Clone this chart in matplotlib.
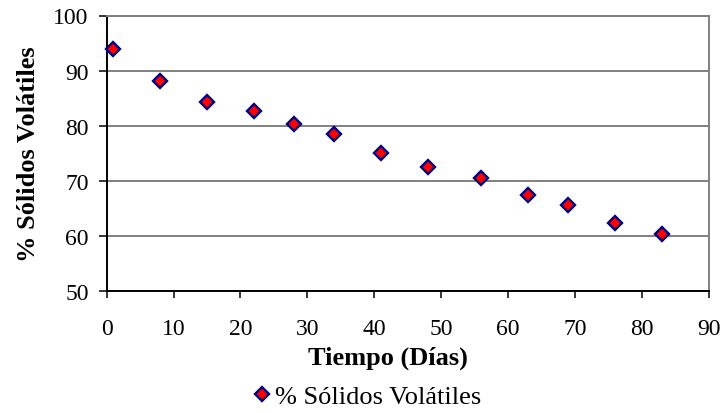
import matplotlib
matplotlib.use("Agg")
import matplotlib.pyplot as plt
from matplotlib.lines import Line2D

# Days since start and volatile solids percentage
dias = [1, 8, 15, 22, 28, 34, 41, 48, 56, 63, 69, 76, 83]
solidos_volatiles = [94.0, 88.2, 84.3, 82.6, 80.4, 78.5, 75.0, 72.6, 70.5, 67.4, 65.6, 62.4, 60.3]

x_ticks = [0, 10, 20, 30, 40, 50, 60, 70, 80, 90]
y_ticks = [50, 60, 70, 80, 90, 100]

serie = "% Sólidos Volátiles"
x_titulo = "Tiempo (Días)"
y_titulo = "% Sólidos Volátiles"

W, H = 724, 414
PX = 72 / 100  # points per pixel at 100 dpi
plt.rcParams["font.family"] = ["Liberation Serif", "DejaVu Serif"]

fig = plt.figure(figsize=(W / 100, H / 100), dpi=100)
left, right, top, bottom = 106.6, 708.7, 16.5, 292.3
ax = fig.add_axes([left / W, 1 - bottom / H, (right - left) / W, (bottom - top) / H])

ax.set_xlim(0, 90)
ax.set_ylim(50, 100)
ax.set_xticks(x_ticks)
ax.set_yticks(y_ticks)

ax.grid(axis="y", color="#808080", linewidth=1.4)
ax.set_axisbelow(True)

for side in ("top", "right"):
    ax.spines[side].set_color("#808080")
    ax.spines[side].set_linewidth(1.4)
for side in ("left", "bottom"):
    ax.spines[side].set_color("black")
    ax.spines[side].set_linewidth(1.4)

tick_len = 7 * PX
# x tick labels sit on a baseline at y = 335 px
ax.tick_params(axis="x", direction="out", length=tick_len, width=1.1, labelsize=17,
               pad=(335 - bottom) * PX - tick_len)
for lab in ax.get_xticklabels():
    lab.set_verticalalignment("baseline")
ax.tick_params(axis="y", direction="out", length=8 * PX, width=1.1, labelsize=17,
               pad=10 * PX)

marker_style = dict(linestyle="none", marker="D", markersize=7,
                    markerfacecolor="#FF0000", markeredgecolor="#000080",
                    markeredgewidth=1.7)

ax.plot(dias, solidos_volatiles, clip_on=False, zorder=3, **marker_style)

fig.text(388 / W, 1 - 365 / H, x_titulo, ha="center", va="baseline",
         fontsize=19, fontweight="bold")
fig.text(35 / W, 1 - 154 / H, y_titulo, ha="center", va="baseline",
         rotation=90, rotation_mode="anchor", fontsize=19, fontweight="bold")

handle = Line2D([], [], **marker_style)
fig.legend([handle], [serie], loc="center left", bbox_to_anchor=(255.1 / W, 1 - 397 / H),
           frameon=False, fontsize=19, handlelength=0.5, handletextpad=0.25,
           borderpad=0, borderaxespad=0)

fig.savefig("out.png", dpi=100, facecolor="white")
